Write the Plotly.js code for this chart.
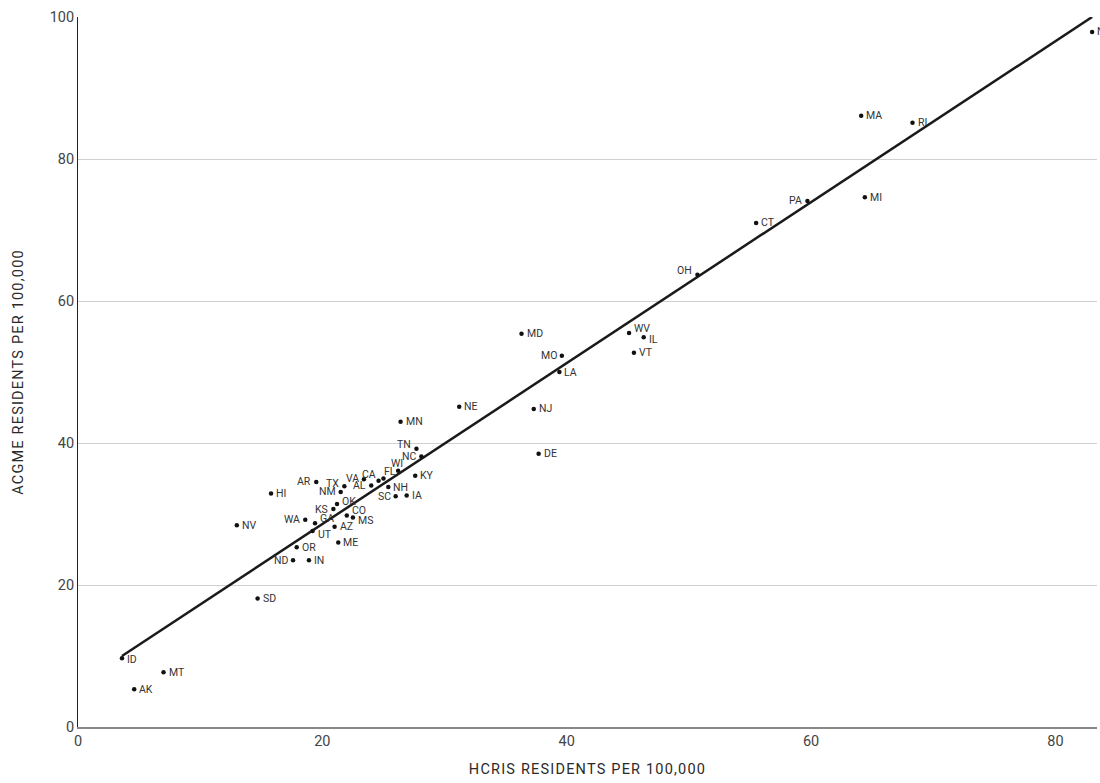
<!DOCTYPE html>
<html>
<head>
<meta charset="utf-8">
<script src="https://cdn.plot.ly/plotly-3.0.1.min.js"></script>
<style>
  html, body { margin: 0; padding: 0; background: #fff; }
  #chart { width: 1100px; height: 783px; }
  .xtitle, .ytitle { letter-spacing: 1.2px; }
</style>
</head>
<body>
<div id="chart"></div>
<script>
// State abbreviations
const states = ["NY","MA","RI","MI","PA","CT","OH","WV","IL","VT","MD","MO","LA","NE","NJ","MN","DE",
  "TN","NC","WI","KY","CA","FL","VA","AL","NH","SC","IA","AR","TX","NM","HI","OK","KS","CO","MS",
  "WA","GA","NV","AZ","UT","ME","OR","ND","IN","SD","ID","MT","AK"];
// HCRIS residents per 100,000
const hcris = [83.0,64.1,68.3,64.4,59.7,55.5,50.7,45.1,46.3,45.5,36.3,39.6,39.4,31.2,37.3,26.4,37.7,
  27.7,28.1,26.2,27.6,24.6,25.0,23.4,24.0,25.4,26.0,26.9,19.5,21.8,21.5,15.8,21.2,20.9,22.0,22.5,
  18.6,19.4,13.0,21.0,19.2,21.3,17.9,17.6,18.9,14.7,3.6,7.0,4.6];
// ACGME residents per 100,000
const acgme = [97.9,86.1,85.1,74.6,74.1,71.0,63.7,55.5,54.9,52.7,55.4,52.3,50.0,45.1,44.8,43.0,38.5,
  39.2,38.1,36.1,35.4,34.7,35.0,34.9,34.0,33.8,32.5,32.6,34.5,33.9,33.1,32.9,31.4,30.7,29.8,29.5,
  29.2,28.7,28.4,28.2,27.6,26.0,25.3,23.5,23.5,18.1,9.7,7.7,5.3];
// Fitted line end points
const fitX = [3.6, 83.0];
const fitY = [10.0, 100.0];
// Axis ticks
const xTicks = [0, 20, 40, 60, 80];
const yTicks = [0, 20, 40, 60, 80, 100];

// label placement (style): side and small vertical nudge in px (positive = up)
const leftSide = new Set(["PA","OH","MO","VA","AL","SC","AR","NM","KS","WA","ND","NC","CA","TX","TN"]);
const centered = new Set(["WI"]);
const nudge = { CA:6, FL:7, WI:7, TX:3, TN:4, GA:5, OK:3, CO:5, WV:4, OH:4, UT:-3, IL:-2, MS:-3, ID:-1, VA:1, AR:1 };
const xNudge = { CA: -1, FL: -1, WI: -1 };

const annotations = states.map((s, i) => ({
  x: hcris[i], y: acgme[i], xref: "x", yref: "y",
  text: s, showarrow: false,
  xanchor: centered.has(s) ? "center" : (leftSide.has(s) ? "right" : "left"),
  yanchor: "middle",
  xshift: (s in xNudge) ? xNudge[s] : (leftSide.has(s) ? -3 : 3),
  yshift: nudge[s] || 0,
  font: { family: "Roboto, 'Open Sans', sans-serif", size: 10.5, color: "#333" }
}));

const traces = [
  {
    x: fitX, y: fitY, mode: "lines", type: "scatter",
    line: { color: "#1a1a1a", width: 2.5 }, hoverinfo: "skip", showlegend: false
  },
  {
    x: hcris, y: acgme, mode: "markers", type: "scatter",
    marker: { color: "#111", size: 4.5 },
    cliponaxis: false, showlegend: false
  }
];

const layout = {
  width: 1100, height: 783,
  margin: { l: 78, r: 3, t: 17, b: 56 },
  paper_bgcolor: "#fff", plot_bgcolor: "#fff",
  font: { family: "Roboto, 'Open Sans', sans-serif", color: "#333" },
  annotations: annotations,
  xaxis: {
    range: [0, 83.4], tickvals: xTicks, ticktext: xTicks.map(String),
    showgrid: false, zeroline: false, showline: true, linecolor: "#888", linewidth: 2,
    ticks: "", tickfont: { size: 14.5, color: "#444" },
    title: { text: "HCRIS RESIDENTS PER 100,000", font: { size: 14.5, color: "#2a2a2a" }, standoff: 14 }
  },
  yaxis: {
    range: [0, 100], tickvals: yTicks, ticktext: yTicks.map(String),
    showgrid: true, gridcolor: "#d0d0d0", gridwidth: 1,
    zeroline: false, showline: true, linecolor: "#222", linewidth: 1,
    ticks: "", tickfont: { size: 14.5, color: "#444" },
    title: { text: "ACGME RESIDENTS PER 100,000", font: { size: 14.5, color: "#2a2a2a" }, standoff: 22 }
  }
};

Plotly.newPlot("chart", traces, layout, { displayModeBar: false, staticPlot: true });
</script>
</body>
</html>
